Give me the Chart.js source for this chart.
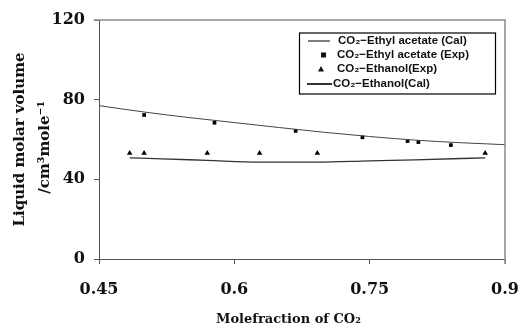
<!DOCTYPE html>
<html>
<head>
<meta charset="utf-8">
<script src="https://cdn.jsdelivr.net/npm/chart.js@4"></script>
<style>
  body { margin: 0; background: #fff; }
  canvas { display: block; }
</style>
</head>
<body>
<canvas id="myChart" width="521" height="329"></canvas>
<script>
// ethyl acetate, measured
var eaExpX = [0.50, 0.578, 0.668, 0.742, 0.792, 0.804, 0.84]
var eaExpY = [72.3, 68.4, 64.3, 61.1, 59.2, 58.7, 57.2]
// ethyl acetate, calculated
var eaCalX = [0.45, 0.50, 0.55, 0.60, 0.65, 0.70, 0.75, 0.80, 0.85, 0.90]
var eaCalY = [77.0, 73.8, 71.0, 68.5, 66.0, 63.6, 61.5, 59.7, 58.4, 57.4]
// ethanol, measured
var etExpX = [0.484, 0.50, 0.57, 0.628, 0.692, 0.878]
var etExpY = [53.1, 53.1, 53.1, 53.1, 53.1, 53.1]
// ethanol, calculated
var etCalX = [0.484, 0.52, 0.57, 0.628, 0.692, 0.75, 0.80, 0.878]
var etCalY = [50.8, 50.3, 49.5, 48.6, 48.6, 49.3, 49.8, 50.8]

var legendLabels = ['CO\u2082\u2212Ethyl acetate (Cal)', 'CO\u2082\u2212Ethyl acetate (Exp)',
                    'CO\u2082\u2212Ethanol(Exp)', 'CO\u2082\u2212Ethanol(Cal)']

function pts(xs, ys){
  return xs.map(function(x, i){ return {x: x, y: ys[i]} })
}

var tickFont = {family: 'DejaVu Serif', weight: 'bold', size: 16}

// top / right frame and the boxed legend
var extras = {
  id: 'extras',
  afterDraw: function(chart){
    var c = chart.ctx, a = chart.chartArea
    c.save()
    c.strokeStyle = '#8a8a8a'
    c.lineWidth = 1.5
    c.beginPath()
    c.moveTo(94, a.top); c.lineTo(a.right, a.top); c.lineTo(a.right, a.bottom + 5)
    c.stroke()

    c.strokeStyle = '#000'
    c.lineWidth = 1.2
    c.strokeRect(299.5, 33, 196, 61)
    c.font = 'bold 11.5px "Liberation Sans"'
    c.fillStyle = '#111'
    c.textBaseline = 'middle'
    var rows = [41, 55, 69, 84]
    c.lineWidth = 1
    c.beginPath(); c.moveTo(308, rows[0]); c.lineTo(330, rows[0]); c.stroke()
    c.fillText(legendLabels[0], 338, rows[0])
    c.fillRect(321, rows[1] - 2.5, 5, 5)
    c.fillText(legendLabels[1], 337, rows[1])
    c.beginPath(); c.moveTo(321, rows[2] - 3); c.lineTo(324, rows[2] + 2.5); c.lineTo(318, rows[2] + 2.5); c.closePath(); c.fill()
    c.fillText(legendLabels[2], 337, rows[2])
    c.lineWidth = 1.6
    c.beginPath(); c.moveTo(307, rows[3]); c.lineTo(332, rows[3]); c.stroke()
    c.fillText(legendLabels[3], 333, rows[3])
    c.restore()
  }
}

var ctx = document.getElementById('myChart').getContext('2d')
var chart = new Chart(ctx, {
  type: 'scatter',
  data: {
    datasets: [
      {label: legendLabels[0], data: pts(eaCalX, eaCalY), showLine: true, pointRadius: 0,
       borderColor: '#444', borderWidth: 1, tension: 0.4, cubicInterpolationMode: 'monotone'},
      {label: legendLabels[1], data: pts(eaExpX, eaExpY), pointStyle: 'rect', pointRadius: 2.6,
       backgroundColor: '#000', borderColor: '#000', borderWidth: 0},
      {label: legendLabels[2], data: pts(etExpX, etExpY), pointStyle: 'triangle', pointRadius: 3.2,
       backgroundColor: '#000', borderColor: '#000', borderWidth: 0},
      {label: legendLabels[3], data: pts(etCalX, etCalY), showLine: true, pointRadius: 0,
       borderColor: '#333', borderWidth: 1.3, tension: 0.4, cubicInterpolationMode: 'monotone'}
    ]
  },
  options: {
    responsive: false,
    animation: false,
    layout: {padding: {left: 0, top: 20, right: 16, bottom: 0}},
    plugins: {legend: {display: false}, tooltip: {enabled: false}},
    scales: {
      x: {
        min: 0.45, max: 0.9,
        afterFit: function(s){ s.height = 70; s.paddingLeft = 0; s.paddingRight = 0 },
        ticks: {stepSize: 0.15, padding: 16, color: '#111', font: tickFont,
                callback: function(v){ return String(Math.round(v * 100) / 100) }},
        grid: {drawOnChartArea: false, drawTicks: true, tickLength: 5, color: '#555'},
        border: {display: true, color: '#555', width: 1},
        title: {display: true, text: 'Molefraction of CO\u2082      ', color: '#111',
                font: {family: 'DejaVu Serif', weight: 'bold', size: 13}, padding: {bottom: 2, top: 0}}
      },
      y: {
        min: 0, max: 120,
        afterFit: function(s){ s.width = 99; s.paddingTop = 0; s.paddingBottom = 0 },
        ticks: {stepSize: 40, padding: 9, color: '#111', font: tickFont},
        grid: {drawOnChartArea: false, drawTicks: true, tickLength: 5, color: '#555'},
        border: {display: true, color: '#555', width: 1},
        title: {display: true, text: ['Liquid molar volume', '/cm\u00b3mole\u207b\u00b9   '], color: '#111',
                font: {family: 'DejaVu Serif', weight: 'bold', size: 15, lineHeight: 1.7},
                padding: {top: 7, bottom: 0}}
      }
    }
  },
  plugins: [extras]
})
</script>
</body>
</html>
